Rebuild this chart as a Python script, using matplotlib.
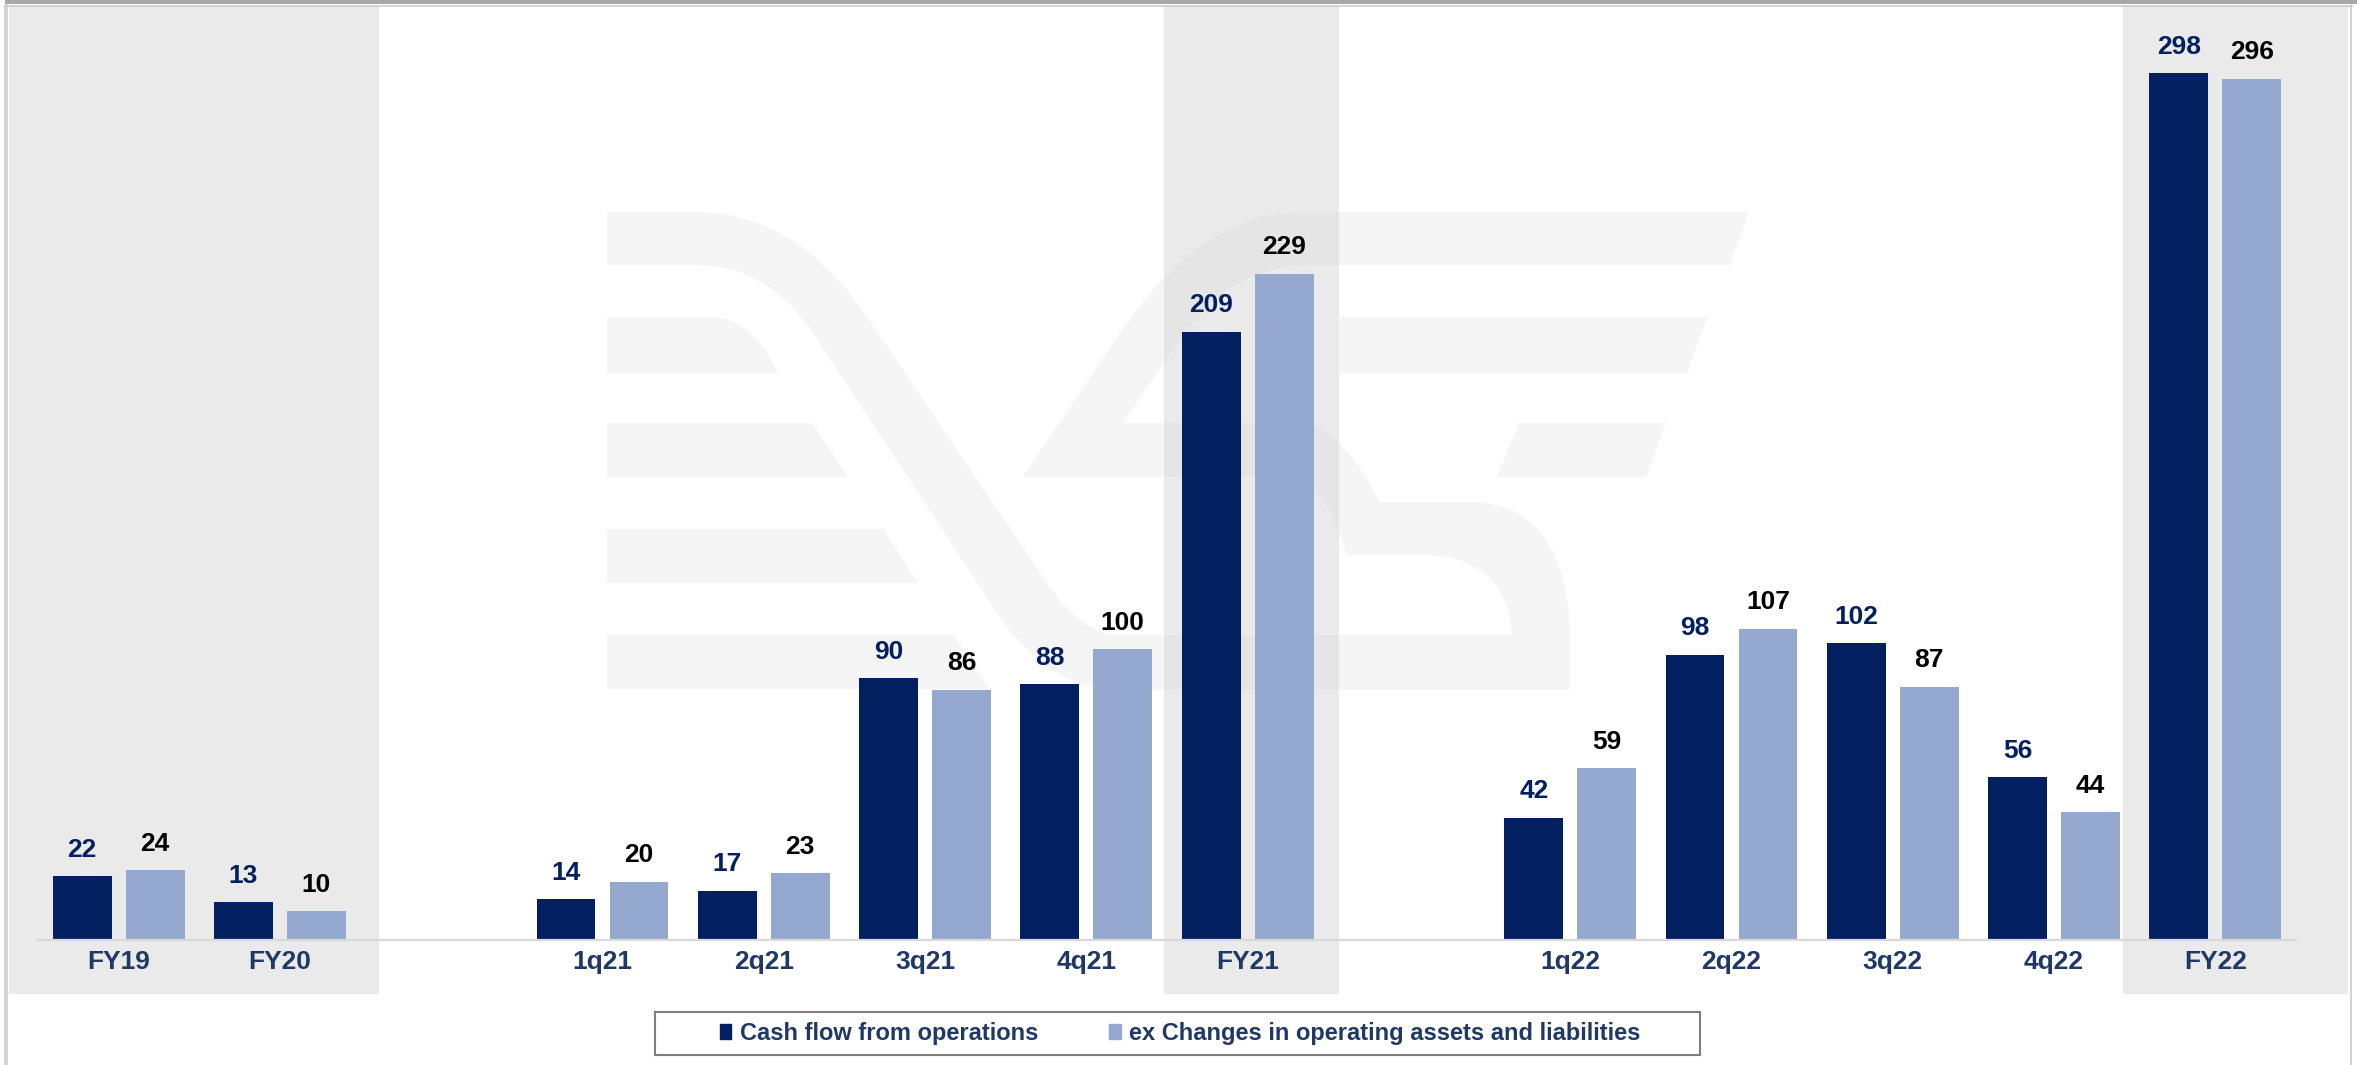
import matplotlib
matplotlib.use('Agg')
import matplotlib.pyplot as plt
from matplotlib.patches import Polygon, Rectangle, Patch
from matplotlib.lines import Line2D

plt.rcParams['font.family'] = ['Liberation Sans', 'DejaVu Sans']
plt.rcParams['font.weight'] = 'bold'

W, H = 2357, 1065

# data
categories = ['FY19', 'FY20', '1q21', '2q21', '3q21', '4q21', 'FY21',
              '1q22', '2q22', '3q22', '4q22', 'FY22']
cash_flow = [22, 13, 14, 17, 90, 88, 209, 42, 98, 102, 56, 298]
ex_changes = [24, 10, 20, 23, 86, 100, 229, 59, 107, 87, 44, 296]
series_names = ['Cash flow from operations',
                'ex Changes in operating assets and liabilities']
gap_after = ['FY20', 'FY21']  # an empty slot follows these

# styles
DARK = '#02205f'
LIGHT = '#95a9d0'
NAVY_TXT = '#1f3864'
WM = '#f4f5f4'
band_spans = [(-0.68, 1.614), (6.481, 7.566), (12.427, 13.822)]


def px(X, Y):
    # reference pixel (top-left origin) -> figure fraction
    return (X / W, 1 - Y / H)


def qb(p0, c, p1, n=10):
    # quadratic bezier points, used for the watermark outline
    out = []
    for i in range(n + 1):
        t = i / n
        out.append(((1 - t) ** 2 * p0[0] + 2 * (1 - t) * t * c[0] + t ** 2 * p1[0],
                    (1 - t) ** 2 * p0[1] + 2 * (1 - t) * t * c[1] + t ** 2 * p1[1]))
    return out


# category slots, with a blank slot after each fiscal year block
pos = []
p = 0
for c in categories:
    pos.append(p)
    p += 2 if c in gap_after else 1

fig = plt.figure(figsize=(W / 100, H / 100), dpi=100)
ax = fig.add_axes([38 / W, 1 - 940 / H, (2296 - 38) / W, (940 - 6) / H])
ax.set_facecolor('none')

# watermark logo (decoration only)
shape_a = ([(607, 212)] + qb((697, 212), (796, 212), (867, 317))
           + qb((1047, 583), (1082, 635), (1120, 635))
           + qb((1512, 635), (1507, 558), (1427, 555))
           + [(1347, 555), (1380, 502)]
           + qb((1477, 502), (1566, 508), (1570, 633))
           + [(1570, 690)]
           + qb((1120, 690), (1049, 690), (1000, 617))
           + qb((813, 333), (767, 265), (697, 265))
           + [(607, 265)])
shape_b = ([(1023, 477)] + qb((1120, 333), (1202, 212), (1300, 212))
           + [(1749, 212), (1730, 265)]
           + qb((1310, 265), (1230, 265), (1177, 343))
           + [(1123, 423)]
           + qb((1300, 423), (1340, 425), (1380, 502))
           + qb((1347, 555), (1325, 480), (1290, 477)))
wm_shapes = [
    [(607, 317)] + qb((710, 317), (752, 317), (778, 373)) + [(607, 373)],
    [(607, 423), (812, 423), (848, 477), (607, 477)],
    [(607, 529), (883, 529), (918, 583), (607, 583)],
    [(607, 635), (953, 635), (990, 689), (607, 689)],
    shape_a,
    shape_b,
    [(1339, 317), (1707, 317), (1687, 373), (1339, 373)],
    [(1519, 423), (1666, 423), (1646, 477), (1497, 477)],
]
for shp in wm_shapes:
    fig.add_artist(Polygon([px(x, y) for x, y in shp], closed=True,
                           transform=fig.transFigure, facecolor=WM,
                           edgecolor='none', zorder=-1))

# frame
fig.add_artist(Rectangle(px(5, 3.5), 1 - 5 / W, 3.5 / H, transform=fig.transFigure,
                         color='#a8a8a8', lw=0, zorder=-1))
for xs, ys in [([5, 2352], [5.5, 5.5]), ([5, 5], [5, H]), ([7, 7], [5, H]),
               ([2351, 2351], [5, H])]:
    fig.add_artist(Line2D([x / W for x in xs], [1 - y / H for y in ys],
                          transform=fig.transFigure, color='#c8c8c8', lw=1.1))

# gray bands behind the fiscal-year columns
for l, r in band_spans:
    ax.axvspan(l, r, ymin=-0.0578, ymax=1.0, color='#d6d6d6', alpha=0.49,
               lw=0, zorder=1, clip_on=False)

w = 0.365
off = 0.226
x1 = [x - off for x in pos]
x2 = [x + off for x in pos]
ax.bar(x1, cash_flow, width=w, color=DARK, zorder=3)
ax.bar(x2, ex_changes, width=w, color=LIGHT, zorder=3)

for x, v in zip(x1, cash_flow):
    ax.annotate(str(v), (x, v), xytext=(0, 19), textcoords='offset points',
                ha='center', va='center', fontsize=19, color=DARK,
                fontweight='bold')
for x, v in zip(x2, ex_changes):
    ax.annotate(str(v), (x, v), xytext=(0, 19), textcoords='offset points',
                ha='center', va='center', fontsize=19, color='black',
                fontweight='bold')

ax.set_xlim(-0.5, 13.5)
ax.set_ylim(0, 321)
ax.set_xticks(pos, categories)
ax.set_yticks([])
ax.tick_params(axis='x', length=0, pad=7, labelsize=19, labelcolor=NAVY_TXT)
for s in ['top', 'left', 'right']:
    ax.spines[s].set_visible(False)
ax.spines['bottom'].set_color('#d9d9d9')
ax.spines['bottom'].set_linewidth(1.6)
ax.spines['bottom'].set_zorder(4)

# legend with its own box
fig.add_artist(Rectangle(px(655, 1055), (1700 - 655) / W, 43 / H,
                         transform=fig.transFigure, fill=False,
                         edgecolor='#7f7f7f', lw=1.5))
handles = [Patch(color=DARK), Patch(color=LIGHT)]
fig.legend(handles, series_names, loc='center',
           bbox_to_anchor=px(1180, 1033.5), ncol=2, frameon=False,
           fontsize=17, handlelength=0.5, handleheight=0.6,
           handletextpad=0.35, columnspacing=3.0, labelcolor=NAVY_TXT)

fig.savefig('out.png', dpi=100, facecolor='white')
